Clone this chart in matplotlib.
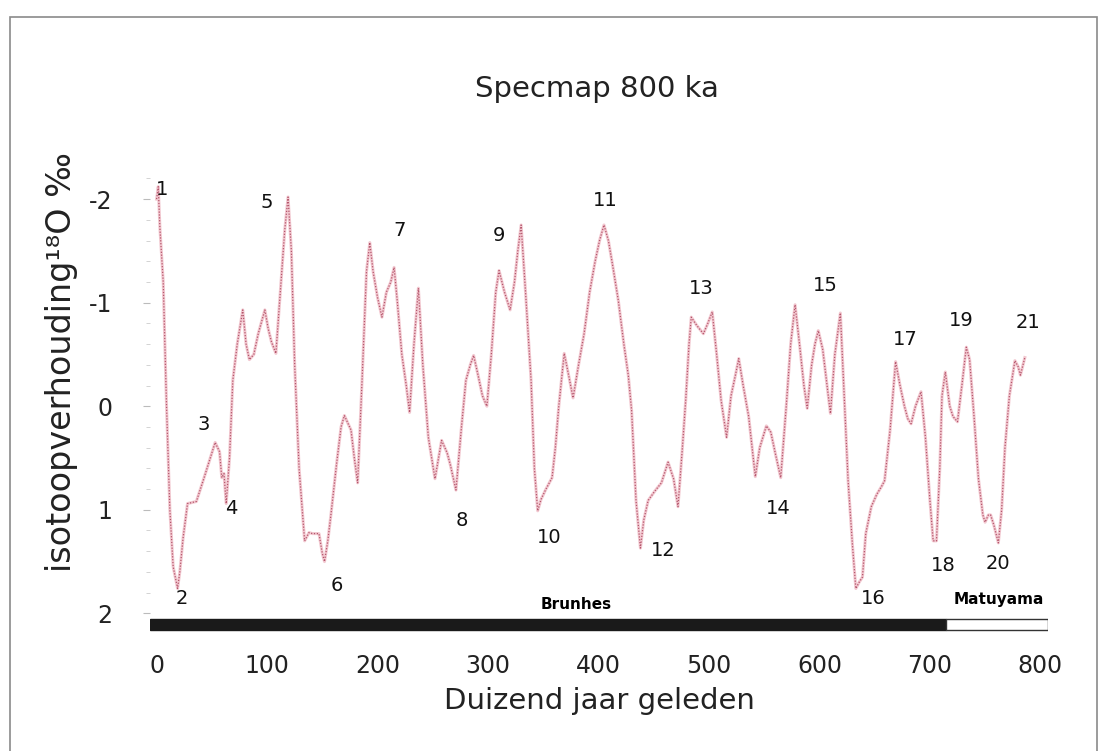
import numpy as np
import matplotlib.pyplot as plt
from matplotlib.patches import Rectangle

# ouderdom (ka) en d18O-waarden
ka = [0, 1.5, 3, 6, 9, 12, 15, 19, 21, 24, 28, 36, 43, 48, 53, 57, 59, 61, 63, 66,
      69, 73, 78, 81, 84, 88, 92, 98, 101, 104, 108, 112, 116, 119, 122, 125, 129, 134, 138, 141,
      147, 150, 152, 155, 158, 163, 167, 170, 176, 179, 182, 186, 190, 193, 196, 200, 204, 208, 212, 215,
      218, 222, 226, 229, 233, 237, 241, 246, 252, 258, 263, 266, 271, 276, 280, 284, 287, 291, 295, 299,
      303, 307, 310, 315, 320, 324, 327, 330, 334, 339, 342, 345, 348, 352, 358, 361, 364, 367, 369, 373,
      377, 382, 387, 392, 397, 401, 405, 409, 413, 418, 423, 427, 430, 434, 438, 441, 445, 451, 457, 463,
      468, 472, 476, 479, 482, 484, 489, 495, 499, 503, 507, 511, 516, 520, 524, 527, 531, 536, 542, 546,
      552, 556, 560, 565, 570, 574, 578, 582, 586, 589, 593, 596, 599, 603, 607, 610, 614, 619, 622, 626,
      630, 633, 636, 639, 642, 647, 652, 656, 659, 664, 669, 673, 677, 680, 683, 687, 692, 696, 700, 703,
      706, 709, 711, 714, 718, 721, 725, 729, 733, 736, 740, 744, 748, 750, 753, 755, 758, 762, 765, 768,
      772, 777, 780, 782, 786]
d18o = [-2.0, -2.12, -1.72, -1.2, 0.0, 1.0, 1.55, 1.76, 1.6, 1.27, 0.94, 0.92, 0.69, 0.52, 0.35, 0.44, 0.69, 0.65, 0.94, 0.5,
        -0.25, -0.6, -0.93, -0.6, -0.45, -0.5, -0.7, -0.93, -0.75, -0.62, -0.51, -1.1, -1.7, -2.02, -1.5, -0.4, 0.6, 1.3, 1.22, 1.23,
        1.23, 1.42, 1.5, 1.3, 1.03, 0.55, 0.2, 0.09, 0.23, 0.5, 0.74, -0.25, -1.3, -1.58, -1.3, -1.05, -0.86, -1.1, -1.2, -1.34,
        -1.0, -0.5, -0.2, 0.06, -0.6, -1.14, -0.4, 0.3, 0.7, 0.33, 0.45, 0.57, 0.81, 0.2, -0.25, -0.4, -0.49, -0.3, -0.1, 0.0,
        -0.5, -1.1, -1.31, -1.1, -0.93, -1.2, -1.5, -1.75, -1.1, -0.25, 0.6, 1.01, 0.9, 0.81, 0.69, 0.4, 0.01, -0.3, -0.51, -0.3,
        -0.08, -0.4, -0.7, -1.1, -1.4, -1.6, -1.75, -1.6, -1.35, -1.02, -0.6, -0.3, 0.04, 0.91, 1.37, 1.1, 0.91, 0.82, 0.74, 0.54,
        0.7, 0.97, 0.4, -0.06, -0.6, -0.86, -0.78, -0.7, -0.8, -0.91, -0.5, -0.06, 0.3, -0.1, -0.3, -0.46, -0.2, 0.1, 0.68, 0.4,
        0.19, 0.25, 0.45, 0.69, 0.0, -0.6, -0.98, -0.6, -0.2, 0.02, -0.4, -0.6, -0.73, -0.55, -0.2, 0.07, -0.5, -0.9, -0.2, 0.72,
        1.35, 1.76, 1.7, 1.65, 1.23, 0.97, 0.85, 0.78, 0.72, 0.23, -0.43, -0.2, 0.0, 0.12, 0.17, 0.0, -0.14, 0.3, 0.9, 1.3,
        1.3, 0.6, -0.1, -0.33, 0.0, 0.1, 0.15, -0.2, -0.57, -0.45, 0.1, 0.7, 1.05, 1.12, 1.05, 1.05, 1.15, 1.32, 1.0, 0.4,
        -0.1, -0.44, -0.38, -0.3, -0.47]

# nummers van de isotopenstadia en waar ze staan
stadium = [str(i) for i in range(1, 22)]
stadium_ka = [5, 23, 43, 68, 100, 163, 220, 276, 310, 355, 406, 459, 493, 563, 605, 649, 678, 712, 728, 762, 789]
stadium_y = [-2.09, 1.86, 0.18, 0.99, -1.97, 1.73, -1.70, 1.10, -1.65, 1.27, -1.99, 1.39, -1.14, 0.99, -1.17, 1.86,
             -0.64, 1.54, -0.83, 1.52, -0.81]

# paleomagnetische chrons
chrons = ["Brunhes", "Matuyama"]
chron_start = [-6, 715]
chron_eind = [715, 807]

fig = plt.figure(figsize=(11.06, 7.51), dpi=100)
ax = fig.add_axes([0.1356, 0.1585, 0.812, 0.615])

ax.plot(ka, d18o, color='#f2c8d0', lw=2.2, zorder=2)
ax.plot(ka, d18o, color='#b4566c', lw=0.9, linestyle=(0, (1, 1.3)), zorder=3)

for s, x, y in zip(stadium, stadium_ka, stadium_y):
    ax.text(x, y, s, ha='center', va='center', fontsize=14, color='#111111', zorder=4)

# balk met Brunhes / Matuyama
ax.add_patch(Rectangle((chron_start[0], 2.05), chron_eind[0] - chron_start[0], 0.11,
                       facecolor='#1a1a1a', edgecolor='#1a1a1a', zorder=4))
ax.add_patch(Rectangle((chron_start[1], 2.05), chron_eind[1] - chron_start[1], 0.11,
                       facecolor='white', edgecolor='#333333', lw=1, zorder=4))
ax.text(380, 1.91, chrons[0], ha='center', va='center', fontsize=11, fontweight='bold')
ax.text(762, 1.87, chrons[1], ha='center', va='center', fontsize=11, fontweight='bold')

ax.set_xlim(-6, 807)
ax.set_ylim(2.18, -2.28)
ax.set_xticks(range(0, 801, 100))
ax.set_yticks([-2, -1, 0, 1, 2])
ax.set_yticklabels(['-2', '-1', '0', '1', '2'])
ax.set_yticks(np.arange(-2.2, 2.1, 0.2), minor=True)
ax.tick_params(axis='x', length=0, pad=16, labelsize=17, colors='#222222')
ax.tick_params(axis='y', which='major', length=5, width=0.8, color='#bbbbbb', pad=22, labelsize=17, labelcolor='#222222')
ax.tick_params(axis='y', which='minor', length=3, width=0.6, color='#cccccc')
for sp in ax.spines.values():
    sp.set_visible(False)

ax.set_xlabel("Duizend jaar geleden", fontsize=21, labelpad=6, color='#222222')
ax.set_ylabel("isotoopverhouding\u00b9\u2078O \u2030", fontsize=24, color='#222222')
ax.yaxis.set_label_coords(-0.08, 0.585)
fig.text(0.54, 0.882, "Specmap 800 ka", ha='center', va='center', fontsize=21, color='#222222')

# rand van de scan
fig.patches.append(Rectangle((0.009, -0.01), 0.983, 0.987, transform=fig.transFigure,
                             fill=False, edgecolor='#8a8a8a', lw=1.2))

fig.savefig('out.png', dpi=100)
